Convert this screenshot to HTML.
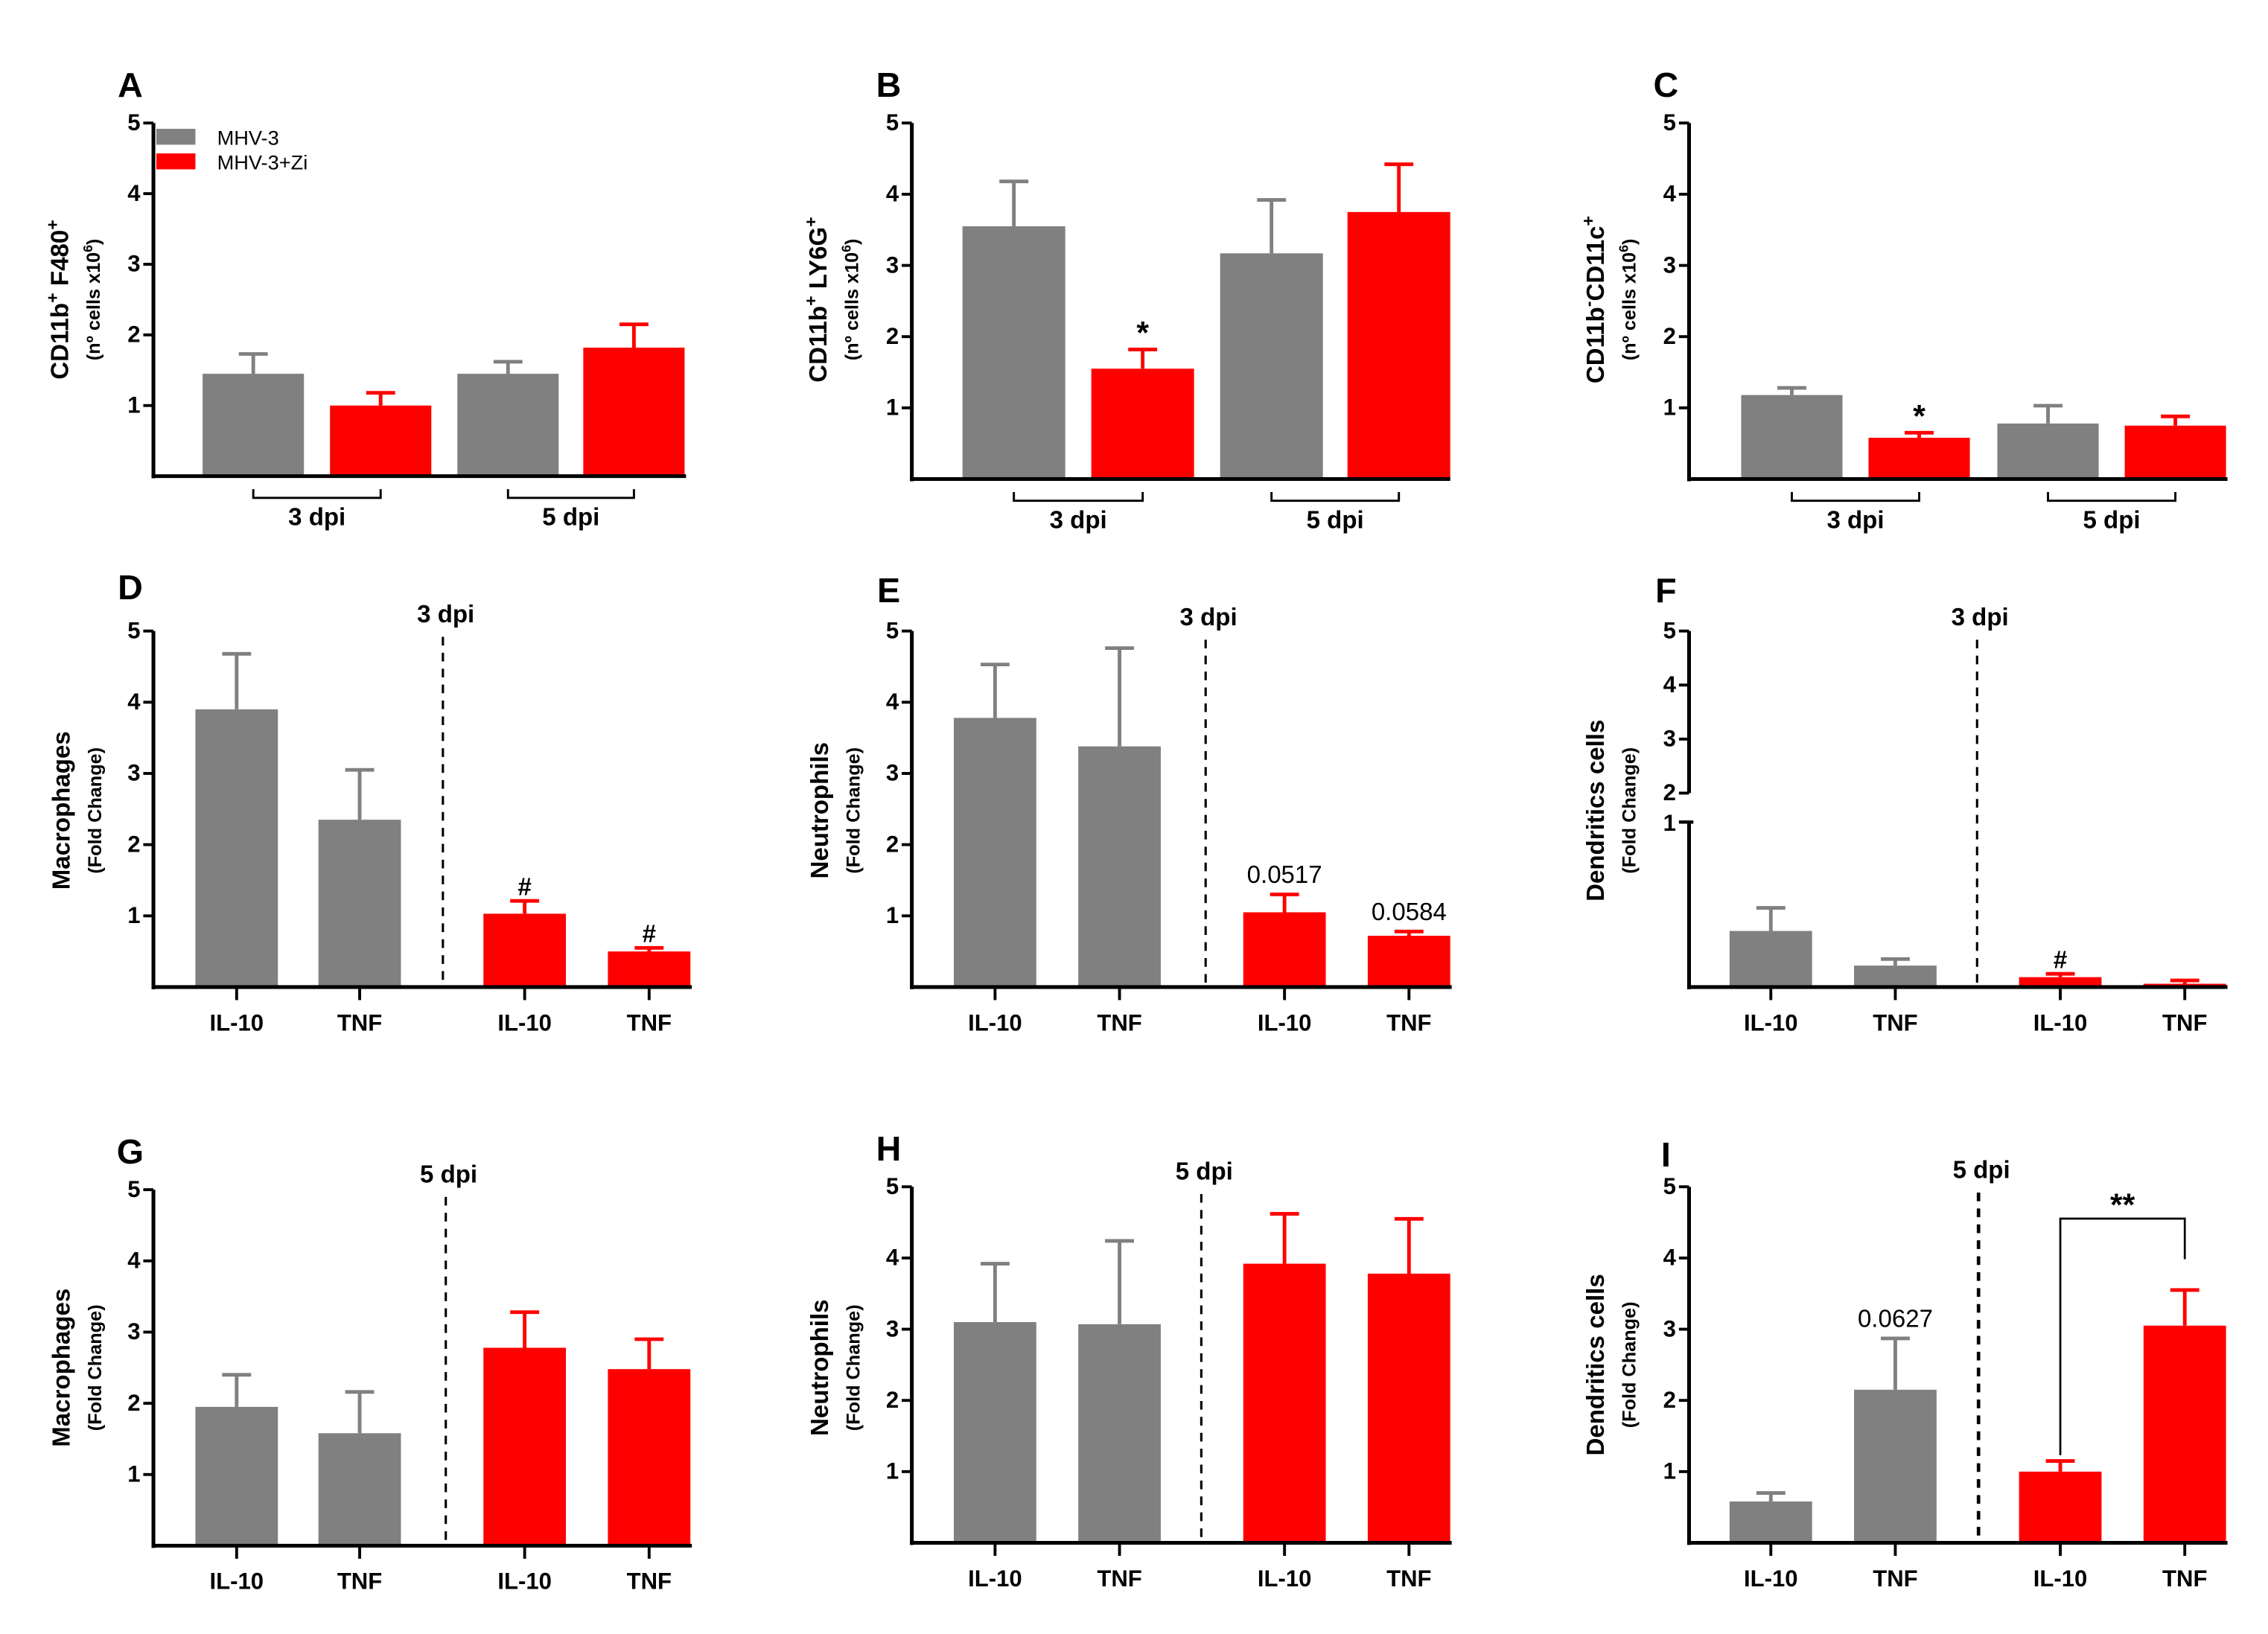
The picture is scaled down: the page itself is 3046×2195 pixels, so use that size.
<!DOCTYPE html>
<html><head><meta charset="utf-8"><style>
html,body{margin:0;padding:0;background:#fff;}
svg{display:block;font-family:"Liberation Sans",Arial,sans-serif;}
</style></head><body>
<svg id="fig" width="3046" height="2195" viewBox="0 0 1567 1129" preserveAspectRatio="none" xmlns="http://www.w3.org/2000/svg"></svg>
<script>
// ---- data ----
const groupsAC = ["3 dpi","5 dpi"];
const seriesNames = ["MHV-3","MHV-3+Zi"];
const catsDI = ["IL-10","TNF","IL-10","TNF"];
const yTicks = [1,2,3,4,5];
const fTicksTop = [2,3,4,5];
const valsA = [1.45,1.0,1.45,1.82];  const errA = [0.28,0.18,0.17,0.33];
const valsB = [3.55,1.55,3.17,3.75]; const errB = [0.63,0.27,0.75,0.67];
const valsC = [1.18,0.58,0.78,0.75]; const errC = [0.10,0.07,0.25,0.13];
const valsD = [3.9,2.35,1.03,0.5];   const errD = [0.78,0.70,0.18,0.05];
const valsE = [3.78,3.38,1.05,0.72]; const errE = [0.75,1.38,0.25,0.06];
const valsF = [0.34,0.13,0.06,0.02]; const errF = [0.14,0.04,0.02,0.02];
const valsG = [1.95,1.58,2.78,2.48]; const errG = [0.45,0.58,0.50,0.42];
const valsH = [3.10,3.07,3.92,3.78]; const errH = [0.82,1.17,0.70,0.77];
const valsI = [0.58,2.15,1.00,3.05]; const errI = [0.12,0.72,0.15,0.50];
const annD = ["","","#","#"];
const annE = ["","","0.0517","0.0584"];
const annF = ["","","#",""];
const annI = ["","0.0627","",""];
const annB = ["","*","",""];
const annC = ["","*","",""];

const NS="http://www.w3.org/2000/svg";
const svg=document.getElementById('fig');
const GREY="#808080", RED="#ff0000";
function mk(tag,attrs,parent){const e=document.createElementNS(NS,tag);for(const k in attrs)e.setAttribute(k,attrs[k]);(parent||svg).appendChild(e);return e;}
function txt(s,x,y,size,opts,parent){opts=opts||{};const t=mk('text',{x:x,y:y,'font-size':size,'font-weight':opts.w||'bold','text-anchor':opts.a||'middle',fill:'#000'},parent);if(opts.rot)t.setAttribute('transform','rotate(-90 '+x+' '+y+')');t.textContent=s;return t;}

function panel(cfg){
  const g=mk('g',{});
  
  
  const yScale=cfg.yScale||(v=>cfg.base-(cfg.base-cfg.top)*v/5);
  const L=txt(cfg.letter,cfg.ax-16,cfg.letterY,24,{},g);
  
  
  cfg.vals.forEach((v,i)=>{
    const x=cfg.barX[i], col=cfg.colors[i];
    const y=yScale(v);
    const r=mk('rect',{x:x,y:y,width:cfg.bw,height:cfg.base-y,fill:col},g);
    
    
    const ye=yScale(v+cfg.errs[i]), cx=x+cfg.bw/2;
    const eb=mk('path',{d:`M${cx} ${y} V${ye} M${cx-10} ${ye} H${cx+10}`,stroke:col,'stroke-width':2.5,fill:'none'},g);
    
    
    if(cfg.ann&&cfg.ann[i]){
      const isNum=/\d/.test(cfg.ann[i]);
      const a=txt(cfg.ann[i],cx,ye-(isNum?8:4),isNum?17:(cfg.ann[i]=='*'?22:17),{w:isNum?'normal':'bold'},g);
      
      
    }
  });
  const ya=mk('line',{x1:cfg.ax,y1:cfg.top,x2:cfg.ax,y2:cfg.base+1.5,stroke:'#000','stroke-width':2.6},g);
  
  
  const xa=mk('line',{x1:cfg.ax-1.3,y1:cfg.base,x2:cfg.xEnd,y2:cfg.base,stroke:'#000','stroke-width':2.6},g);
  
  
  if(cfg.fBreak){
    ya.setAttribute('y1',cfg.yb1);
    const yu=mk('line',{x1:cfg.ax,y1:cfg.top,x2:cfg.ax,y2:cfg.yb2,stroke:'#000','stroke-width':2.6},g);
    
    
    fTicksTop.forEach(t=>{const y=cfg.top+(5-t)*(cfg.yb2-cfg.top)/3;
      mk('line',{x1:cfg.ax-7,y1:y,x2:cfg.ax,y2:y,stroke:'#000','stroke-width':2},g);
      const tl=txt(String(t),cfg.ax-9,y+5,16,{a:'end'},g);
      
      });
    mk('line',{x1:cfg.ax-7,y1:cfg.yb1,x2:cfg.ax+3,y2:cfg.yb1,stroke:'#000','stroke-width':2.2},g);
    const tl=txt("1",cfg.ax-9,cfg.yb1+6,16,{a:'end'},g);
    
    
  } else {
    yTicks.forEach(t=>{const y=yScale(t);
      mk('line',{x1:cfg.ax-7,y1:y,x2:cfg.ax,y2:y,stroke:'#000','stroke-width':2},g);
      const tl=txt(String(t),cfg.ax-9,y+5,16,{a:'end'},g);
      
      });
  }
  const yl=txt(cfg.ylab1,cfg.ylx,cfg.yly,17,{rot:true},g);
  
  
  if(cfg.ylab1html){yl.textContent='';cfg.ylab1html.forEach(p=>{const ts=mk('tspan',p[1]?{'baseline-shift':'super','font-size':12}:{},yl);ts.textContent=p[0];});}
  const yl2=txt(cfg.ylab2,cfg.ylx+22,cfg.yly,13,{rot:true},g);
  
  
  if(cfg.ylab2html){yl2.textContent='';cfg.ylab2html.forEach(p=>{const ts=mk('tspan',p[1]?{'baseline-shift':'super','font-size':9}:{},yl2);ts.textContent=p[0];});}
  if(cfg.mode==='group'){
    groupsAC.forEach((gname,k)=>{
      const x1=cfg.barX[2*k]+cfg.bw/2, x2=cfg.barX[2*k+1]+cfg.bw/2;
      const br=mk('path',{d:`M${x1} ${cfg.base+9} V${cfg.base+15} H${x2} V${cfg.base+9}`,stroke:'#000','stroke-width':1.5,fill:'none'},g);
      
      
      const gl=txt(gname,(x1+x2)/2,cfg.base+34,17,{},g);
      
      
    });
  } else {
    catsDI.forEach((c,i)=>{const cx=cfg.barX[i]+cfg.bw/2;
      mk('line',{x1:cx,y1:cfg.base,x2:cx,y2:cfg.base+9,stroke:'#000','stroke-width':2},g);
      const cl=txt(c,cx,cfg.base+30,16,{},g);
      
      });
    const dl=mk('line',{x1:cfg.dashX,y1:cfg.dashTop,x2:cfg.dashX,y2:cfg.base,stroke:'#000','stroke-width':cfg.dashW||1.6,'stroke-dasharray':'6,5'},g);
    
    
    const dt=txt(cfg.dpi,cfg.dashX+2,cfg.dashTop-10,17,{},g);
    
    
  }
  return g;
}
const C4=[GREY,RED,GREY,RED], C4b=[GREY,GREY,RED,RED];
const barsA=[140,228,316,403], barsB=[665,754,843,931], barsC=[1203,1291,1380,1468];
const barsD=[135,220,334,420], barsE=[659,745,859,945], barsF=[1195,1281,1395,1481];
const sub6=[["(nº cells x10",0],["6",1],[")",0]];
panel({name:'panel-a',letter:'A',letterY:67,ax:106,top:85,base:329,xEnd:474,barX:barsA,bw:70,colors:C4,vals:valsA,errs:errA,mode:'group',ylab1:'',ylab1html:[["CD11b",0],["+",1],[" F480",0],["+",1]],ylab2:'',ylab2html:sub6,ylx:47,yly:207});
panel({name:'panel-b',letter:'B',letterY:67,ax:630,top:85,base:331,xEnd:1002,barX:barsB,bw:71,colors:C4,vals:valsB,errs:errB,ann:annB,mode:'group',ylab1:'',ylab1html:[["CD11b",0],["+",1],[" LY6G",0],["+",1]],ylab2:'',ylab2html:sub6,ylx:571,yly:207});
panel({name:'panel-c',letter:'C',letterY:67,ax:1167,top:85,base:331,xEnd:1539,barX:barsC,bw:70,colors:C4,vals:valsC,errs:errC,ann:annC,mode:'group',ylab1:'',ylab1html:[["CD11b",0],["-",1],["CD11c",0],["+",1]],ylab2:'',ylab2html:sub6,ylx:1108,yly:207});
panel({name:'panel-d',letter:'D',letterY:414,ax:106,top:436,base:682,xEnd:478,barX:barsD,bw:57,colors:C4b,vals:valsD,errs:errD,ann:annD,mode:'cat',dashX:306,dashTop:440,dpi:'3 dpi',ylab1:'Macrophages',ylab2:'(Fold Change)',ylx:48,yly:560});
panel({name:'panel-e',letter:'E',letterY:416,ax:630,top:436,base:682,xEnd:1003,barX:barsE,bw:57,colors:C4b,vals:valsE,errs:errE,ann:annE,mode:'cat',dashX:833,dashTop:442,dpi:'3 dpi',ylab1:'Neutrophils',ylab2:'(Fold Change)',ylx:572,yly:560});
panel({name:'panel-f',letter:'F',letterY:416,ax:1167,top:436,base:682,xEnd:1539,barX:barsF,bw:57,colors:C4b,vals:valsF,errs:errF,ann:annF,mode:'cat',dashX:1366,dashTop:442,dpi:'3 dpi',fBreak:true,yb1:568,yb2:548,yScale:v=>682-114*v,ylab1:'Dendritics cells',ylab2:'(Fold Change)',ylx:1108,yly:560});
panel({name:'panel-g',letter:'G',letterY:804,ax:106,top:822,base:1068,xEnd:478,barX:barsD,bw:57,colors:C4b,vals:valsG,errs:errG,mode:'cat',dashX:308,dashTop:827,dpi:'5 dpi',ylab1:'Macrophages',ylab2:'(Fold Change)',ylx:48,yly:945});
panel({name:'panel-h',letter:'H',letterY:802,ax:630,top:820,base:1066,xEnd:1003,barX:barsE,bw:57,colors:C4b,vals:valsH,errs:errH,mode:'cat',dashX:830,dashTop:825,dpi:'5 dpi',ylab1:'Neutrophils',ylab2:'(Fold Change)',ylx:572,yly:945});
panel({name:'panel-i',letter:'I',letterY:806,ax:1167,top:820,base:1066,xEnd:1539,barX:barsF,bw:57,colors:C4b,vals:valsI,errs:errI,ann:annI,mode:'cat',dashX:1367,dashW:2.4,dashTop:824,dpi:'5 dpi',ylab1:'Dendritics cells',ylab2:'(Fold Change)',ylx:1108,yly:943});

const iScale=v=>1066-246*v/5;
const bx1=barsF[2]+28.5, bx2=barsF[3]+28.5;
const sb=mk('path',{d:`M${bx1} ${iScale(valsI[2]+errI[2])-4} V842 H${bx2} V870`,stroke:'#000','stroke-width':1.4,fill:'none'});


const ss=txt('**',(bx1+bx2)/2,840,22,{});



[[GREY,95],[RED,112]].forEach((p,i)=>{
  const r=mk('rect',{x:108,y:p[1]-6,width:27,height:11,fill:p[0]});
  
  
  const t=txt(seriesNames[i],150,p[1]+5,14,{a:'start',w:'normal'});
  
  
});
</script>
</body></html>
